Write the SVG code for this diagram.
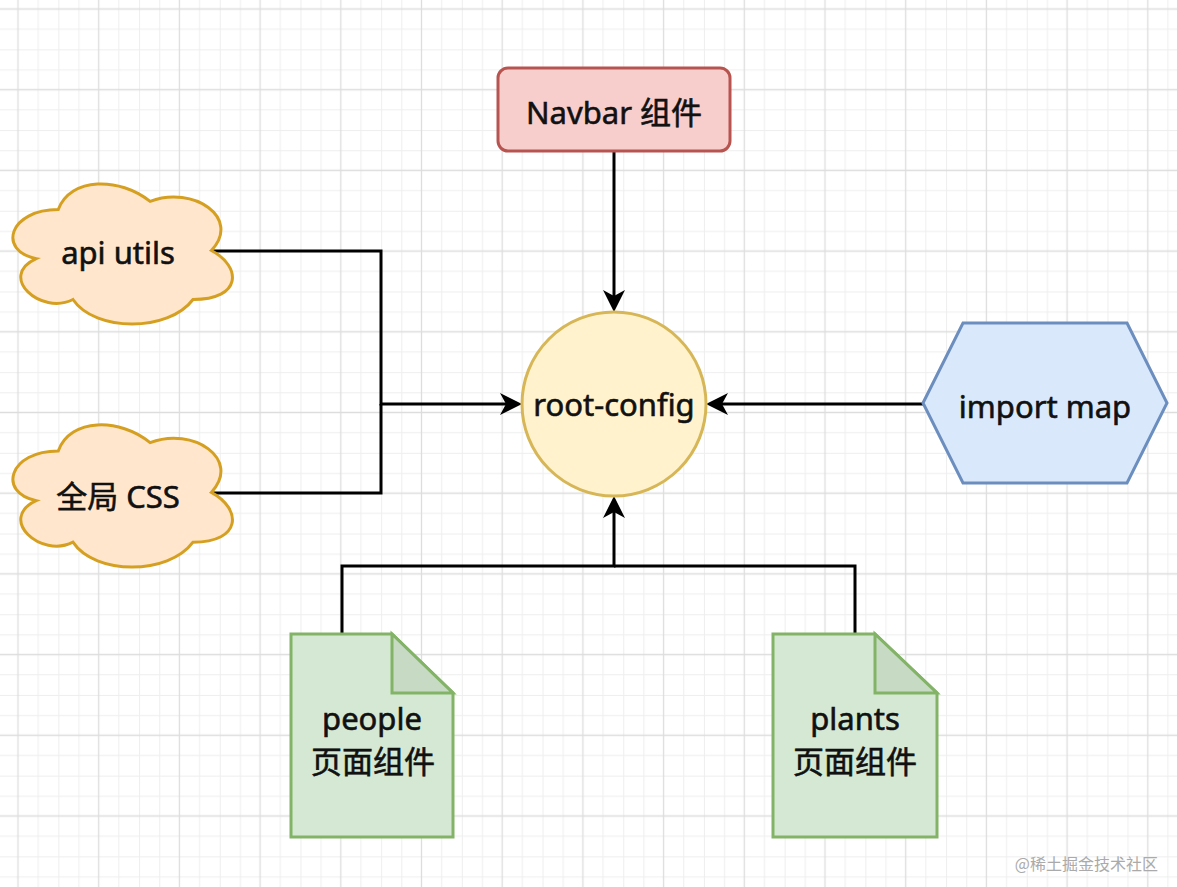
<svg xmlns="http://www.w3.org/2000/svg" width="1177" height="887" viewBox="0 0 1177 887">
<style>
  .lbl { font-family: "Noto Sans", "Liberation Sans", "Noto Sans CJK SC", sans-serif; font-size: 31px; fill: #111; stroke: #111; stroke-width: 0.6; text-anchor: middle; }
  .conn { fill: none; stroke: #000; stroke-width: 3; }
  .cloud { fill: #ffe6cc; stroke: #d5a021; stroke-width: 3; }
  .doc { fill: #d5e8d4; stroke: #82b366; stroke-width: 3; stroke-linejoin: miter; }
  .fold { fill: #c6dac4; stroke: #82b366; stroke-width: 3; }
  .wm { font-family: "Noto Sans CJK SC", "Noto Sans", sans-serif; font-size: 16px; fill: #aaaaaa; text-anchor: end; }
</style>
<defs>
  <pattern id="grid" patternUnits="userSpaceOnUse" x="-22.35" y="-31.35" width="80.7" height="80.7">
    <path d="M0,0.5 H80.7 M0,20.675 H80.7 M0,60.525 H80.7 M0.5,0 V80.7 M20.675,0 V80.7 M60.525,0 V80.7" stroke="#eeeeee" stroke-width="1" fill="none"/>
    <path d="M0,40.35 H80.7 M40.35,0 V80.7" stroke="#dddddd" stroke-width="1.3" fill="none"/>
  </pattern>
  <marker id="arrow" markerUnits="userSpaceOnUse" viewBox="-17 -12 24 24" markerWidth="24" markerHeight="24" refX="0" refY="0" orient="auto">
    <path d="M6,0 L-16,-11 L-10,0 L-16,11 Z" fill="#000"/>
  </marker>
</defs>
<rect width="1177" height="887" fill="#ffffff"/>
<rect width="1177" height="887" fill="url(#grid)"/>

<g id="connectors">
  <path class="conn" d="M213,251 H381 V404 H516" marker-end="url(#arrow)"/>
  <path class="conn" d="M213,493 H381 V404"/>
  <path class="conn" d="M614,151 V306" marker-end="url(#arrow)"/>
  <path class="conn" d="M923,404 H712" marker-end="url(#arrow)"/>
  <path class="conn" d="M342,634 V566 H614 V502" marker-end="url(#arrow)"/>
  <path class="conn" d="M855,634 V566 H614"/>
</g>

<g id="navbar">
  <rect x="498" y="68" width="232" height="83" rx="10" ry="10" fill="#f8cecc" stroke="#b85450" stroke-width="3"/>
  <text class="lbl" x="614" y="124">Navbar 组件</text>
</g>

<g id="root-config">
  <circle cx="614" cy="404" r="92" fill="#fff2cc" stroke="#d6b656" stroke-width="3"/>
  <text class="lbl" x="614" y="416">root-config</text>
</g>

<g id="import-map">
  <polygon points="923,403 963,323 1127,323 1167,403 1127,483 963,483" fill="#dae8fc" stroke="#6c8ebf" stroke-width="3"/>
  <text class="lbl" x="1045" y="418">import map</text>
</g>

<g id="api-utils">
  <path class="cloud" transform="translate(-3,168.7) scale(245,163.5)" vector-effect="non-scaling-stroke" d="M0.25,0.25 C0.05,0.25 0,0.5 0.16,0.55 C0,0.66 0.18,0.9 0.31,0.8 C0.4,1 0.7,1 0.8,0.8 C1,0.8 1,0.6 0.875,0.5 C1,0.3 0.8,0.1 0.625,0.2 C0.5,0.05 0.3,0.05 0.25,0.25 Z"/>
  <text class="lbl" x="118" y="264">api utils</text>
</g>

<g id="global-css">
  <path class="cloud" transform="translate(-3,409.4) scale(245,166)" vector-effect="non-scaling-stroke" d="M0.25,0.25 C0.05,0.25 0,0.5 0.16,0.55 C0,0.66 0.18,0.9 0.31,0.8 C0.4,1 0.7,1 0.8,0.8 C1,0.8 1,0.6 0.875,0.5 C1,0.3 0.8,0.1 0.625,0.2 C0.5,0.05 0.3,0.05 0.25,0.25 Z"/>
  <text class="lbl" x="118" y="508">全局 CSS</text>
</g>

<g id="people">
  <path class="doc" d="M291,634 H392 L453,693 V837 H291 Z"/>
  <path class="fold" d="M392,634 V693 H453 Z"/>
  <text class="lbl" x="372" y="730">people</text>
  <text class="lbl" x="373" y="773">页面组件</text>
</g>

<g id="plants">
  <path class="doc" d="M773,634 H875 L937,693 V837 H773 Z"/>
  <path class="fold" d="M875,634 V693 H937 Z"/>
  <text class="lbl" x="855" y="730">plants</text>
  <text class="lbl" x="855" y="773">页面组件</text>
</g>

<text class="wm" x="1158" y="870">@稀土掘金技术社区</text>
</svg>
